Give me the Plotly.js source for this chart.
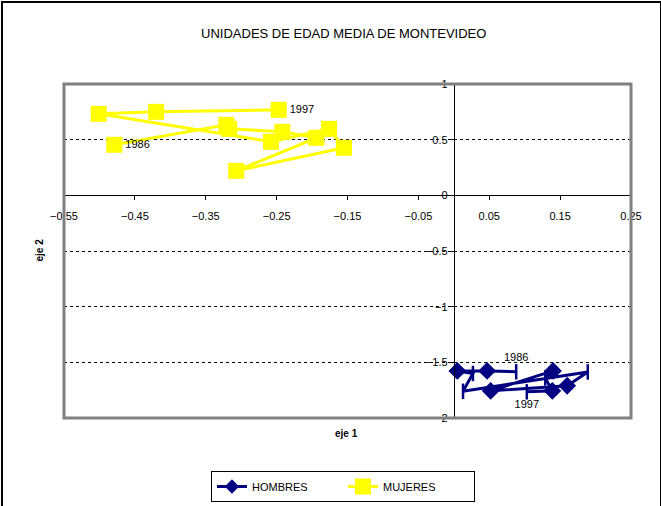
<!DOCTYPE html>
<html>
<head>
<meta charset="utf-8">
<script src="https://cdn.plot.ly/plotly-3.0.1.min.js"></script>
<style>
html,body{margin:0;padding:0;background:#fff;}
#wrap{position:relative;width:661px;height:506px;}
#chart{width:661px;height:506px;}
#frame{position:absolute;left:1px;top:1px;width:657px;height:520px;border:2px solid #000;pointer-events:none;}
</style>
</head>
<body>
<div id="wrap"><div id="chart"></div><div id="frame"></div></div>
<script>
// HOMBRES (eje 1, eje 2), 1986 -> 1997
const hombresX = [0.088, 0.047, 0.005, 0.027, 0.013, 0.189, 0.160, 0.052, 0.140, 0.129, 0.139, 0.103];
const hombresY = [-1.585, -1.577, -1.577, -1.60, -1.76, -1.586, -1.71, -1.756, -1.577, -1.64, -1.756, -1.765];
const hombresSymbols = ['line-ns', 'diamond', 'diamond', 'line-ns', 'line-ns', 'line-ns', 'diamond', 'diamond', 'diamond', 'line-ns', 'diamond', 'line-ns'];
const hombresLabels = ['1986', '', '', '', '', '', '', '', '', '', '', '1997'];
const hombresLabelPos = ['top center', 'top center', 'top center', 'top center', 'top center', 'top center', 'top center', 'top center', 'top center', 'top center', 'top center', 'bottom center'];

// MUJERES (eje 1, eje 2), 1986 -> 1997
const mujeresX = [-0.479, -0.321, -0.317, -0.242, -0.194, -0.307, -0.155, -0.176, -0.258, -0.501, -0.420, -0.247];
const mujeresY = [0.454, 0.633, 0.597, 0.571, 0.517, 0.220, 0.427, 0.597, 0.481, 0.732, 0.750, 0.768];
const mujeresLabels = ['1986', '', '', '', '', '', '', '', '', '', '', '1997'];

const seriesNames = ['HOMBRES', 'MUJERES'];
const titleText = 'UNIDADES DE EDAD MEDIA DE MONTEVIDEO';
const xTitle = 'eje 1';
const yTitle = 'eje 2';

const FONT = 'Arial, "Liberation Sans", sans-serif';
const navy = '#000080';
const yellow = '#FFFF00';

const traces = [
  {
    name: seriesNames[0], x: hombresX, y: hombresY, type: 'scatter', showlegend: false,
    mode: 'lines+markers+text', text: hombresLabels, textposition: hombresLabelPos,
    textfont: {family: FONT, size: 11, color: '#000'},
    line: {color: navy, width: 3},
    marker: {symbol: hombresSymbols, size: 11, color: navy, line: {color: navy, width: 2.5}},
    cliponaxis: false
  },
  {
    name: seriesNames[0], x: [null], y: [null], type: 'scatter', mode: 'lines+markers',
    line: {color: navy, width: 3}, marker: {symbol: 'diamond', size: 11, color: navy}
  },
  {
    name: seriesNames[1], x: mujeresX, y: mujeresY, type: 'scatter',
    mode: 'lines+markers+text', text: mujeresLabels, textposition: 'middle right',
    textfont: {family: FONT, size: 11, color: '#000'},
    line: {color: yellow, width: 3},
    marker: {symbol: 'square', size: 16, color: yellow},
    cliponaxis: false
  }
];

const layout = {
  width: 661, height: 506,
  margin: {l: 64, r: 30, t: 84, b: 88, autoexpand: false},
  paper_bgcolor: '#fff', plot_bgcolor: '#fff',
  font: {family: FONT, size: 11, color: '#000'},
  title: {text: titleText, x: 0.52, xanchor: 'center', y: 0.933, yanchor: 'middle', font: {family: FONT, size: 13, color: '#000'}},
  showlegend: true,
  legend: {
    orientation: 'h', x: 0.492, xanchor: 'center', y: -0.2515, yanchor: 'bottom',
    bordercolor: '#000', borderwidth: 1, bgcolor: '#fff', entrywidth: 86,
    font: {family: FONT, size: 11, color: '#000'}
  },
  xaxis: {
    range: [-0.55, 0.25], tick0: -0.55, dtick: 0.1, tickformat: '.2f',
    anchor: 'free', position: 2/3,
    showgrid: false, zeroline: false,
    showline: true, linecolor: '#000', linewidth: 1,
    ticks: 'outside', ticklen: 4, tickcolor: '#000', ticklabelstandoff: 6,
    tickfont: {family: FONT, size: 11, color: '#000'}
  },
  yaxis: {
    range: [-2, 1], dtick: 0.5,
    anchor: 'free', position: 0.6875,
    showgrid: true, gridcolor: '#000', gridwidth: 1, griddash: 'dot',
    zeroline: false,
    showline: true, linecolor: '#000', linewidth: 1,
    ticks: 'outside', ticklen: 4, tickcolor: '#000',
    tickfont: {family: FONT, size: 11, color: '#000'}
  },
  shapes: [
    {type: 'rect', xref: 'paper', yref: 'paper', x0: 0, x1: 1, y0: 0, y1: 1,
     line: {color: '#808080', width: 3}, layer: 'above'}
  ],
  annotations: [
    {text: '<b>' + xTitle + '</b>', xref: 'paper', yref: 'paper', x: 0.499, y: -0.069,
     showarrow: false, font: {family: FONT, size: 10, color: '#000'}},
    {text: '<b>' + yTitle + '</b>', xref: 'paper', yref: 'paper', x: -0.0547, y: 0.503,
     textangle: -90, showarrow: false, font: {family: FONT, size: 10, color: '#000'}}
  ]
};

Plotly.newPlot('chart', traces, layout, {displayModeBar: false, staticPlot: true});
</script>
</body>
</html>
